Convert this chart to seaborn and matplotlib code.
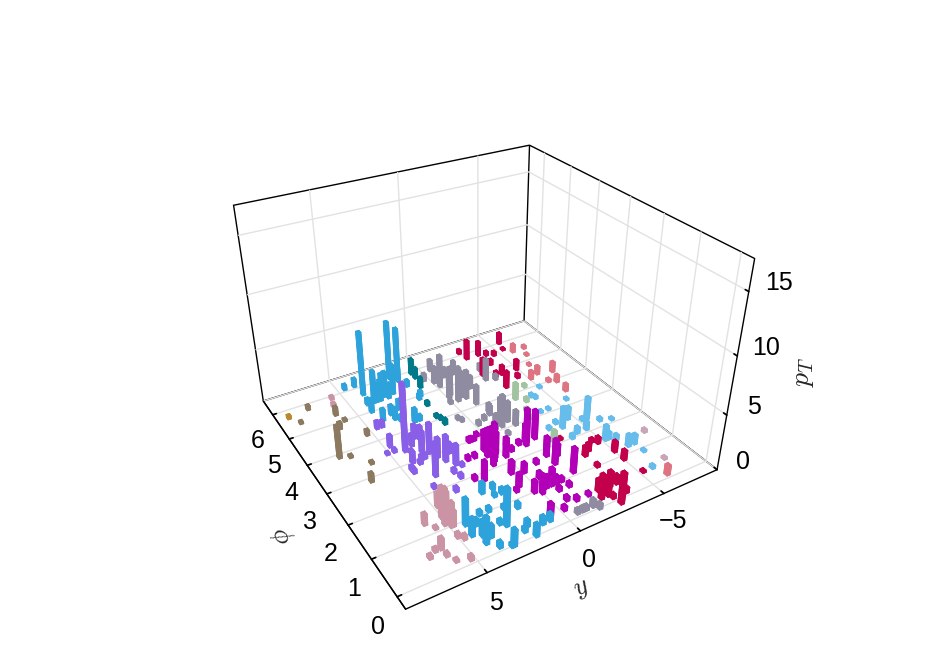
import numpy as np
import pandas as pd
import matplotlib
matplotlib.use("Agg")
import matplotlib.pyplot as plt
import seaborn as sns

blue1_y = [3.9, 1.9, 1.6, 3.7, 3.1, 3.5, 2.8, 4.0, 4.6, 4.2, 4.1, 4.0, 3.4, 2.6, 1.4, 1.2, 1.6, 1.4, 3.2, 2.3, 3.4, 2.8, 3.3, 2.9, 2.4]
blue1_p = [5.7, 6.0, 5.8, 5.3, 5.4, 5.3, 5.3, 6.1, 6.1, 5.0, 5.3, 4.6, 4.5, 4.2, 4.9, 5.0, 5.8, 5.5, 4.4, 4.2, 4.7, 4.8, 5.3, 5.4, 5.4]
blue1_z = [6.1, 5.6, 5.2, 3.1, 2.3, 1.7, 1.4, 0.8, 0.5, 1.3, 0.6, 1.1, 1.1, 1.3, 0.5, 0.5, 1.4, 0.6, 0.5, 0.5, 0.9, 0.9, 2.0, 2.4, 2.8]
teal_y = [0.6, 0.6, 0.8, 1.3, 1.4, 1.3, 1.3]
teal_p = [5.9, 5.7, 5.3, 4.6, 4.1, 3.8, 4.0]
teal_z = [1.5, 1.0, 1.0, 0.4, 0.3, 0.5, 0.3]
grey_y = [-0.2, -0.5, -0.3, -0.4, -0.9, -1.1, 0.3, -0.1, -3.0, -3.3, 0.1, 0.4, 0.5, -0.2, -0.7, -1.2, -0.8, -1.2, -1.7, -1.9, -2.8, -1.3, -1.1, -0.9, -1.5, -1.6, -0.6, -1.1, -1.5, -1.7, -0.9, -0.7, -1.4, -1.5, -0.1]
grey_p = [5.1, 5.8, 4.7, 4.4, 4.4, 4.1, 5.5, 5.3, 5.2, 4.7, 4.4, 3.7, 3.8, 3.4, 3.5, 3.6, 3.1, 3.1, 3.2, 3.0, 4.8, 3.7, 2.8, 5.4, 5.4, 4.7, 0.1, 0.1, 0.1, 0.0, 0.1, 4.5, 3.3, 3.3, 4.6]
grey_z = [3.1, 1.1, 2.7, 3.3, 2.7, 1.8, 0.7, 1.6, 0.7, 0.5, 0.3, 0.3, 0.3, 0.4, 0.4, 0.9, 1.4, 3.0, 1.9, 1.4, 2.1, 0.8, 0.3, 0.9, 1.3, 1.2, 0.4, 0.4, 0.7, 0.5, 0.4, 2.5, 2.2, 1.6, 2.2]
crim1_y = [-3.0, -2.9, -3.8, -2.9, -5.6, -4.6, -4.2, -3.5, -3.4, -3.9, -4.9, -4.5, -5.4, -3.9]
crim1_p = [5.8, 6.1, 5.8, 5.0, 6.0, 5.6, 5.7, 4.8, 4.3, 4.8, 4.8, 4.5, 5.7, 5.3]
crim1_z = [1.9, 0.4, 1.4, 1.7, 1.1, 0.4, 0.4, 0.5, 1.6, 0.9, 1.0, 0.4, 0.2, 0.5]
rose_y = [-5.8, -6.6, -6.3, -5.8, -5.1, -5.7, -6.6, -5.8, -6.2, -6.1, -6.1]
rose_p = [5.5, 5.5, 5.2, 4.8, 4.3, 4.4, 4.3, 4.0, 3.9, 3.5, 0.1]
rose_z = [0.8, 0.3, 0.2, 0.2, 0.8, 0.8, 1.0, 0.3, 0.7, 0.7, 0.9]
sage_y = [-3.2, -4.3, -3.6, -3.1, -3.0, -2.8]
sage_p = [3.8, 4.1, 3.6, 3.3, 3.0, 2.1]
sage_z = [1.6, 0.3, 0.4, 0.3, 0.3, 1.1]
lblue_y = [-5.5, -3.9, -4.6, -5.0, -4.1, -4.2, -4.2, -3.7, -5.6, -3.8, -3.2, -5.2, -4.9, -4.3, -6.0, -6.6, -5.2, -5.4, -5.7, -5.9, -6.3, -6.3, -5.8, -3.8, -5.2]
lblue_p = [2.4, 2.4, 2.6, 3.9, 3.7, 3.6, 3.1, 3.1, 3.2, 2.6, 2.5, 2.4, 2.1, 2.1, 2.2, 2.1, 1.6, 1.6, 1.5, 1.2, 1.2, 0.9, 0.4, 2.0, 1.3]
lblue_z = [2.1, 2.0, 1.2, 0.2, 0.3, 0.3, 0.2, 0.2, 0.2, 0.3, 0.3, 0.3, 0.8, 0.6, 0.3, 0.2, 1.4, 0.7, 0.5, 1.1, 0.9, 0.2, 0.3, 0.4, 0.2]
mauve_y = [-7.4, -6.8]
mauve_p = [1.4, 0.5]
mauve_z = [0.3, 0.2]
crim2_y = [-3.5, -3.9, -4.7, -4.5, -5.0, -5.0, -3.5, -5.2, -3.2, -2.4, -2.2, -3.1, -2.8, -2.7, -3.5, -2.8, -3.5, -2.6]
crim2_p = [1.4, 1.5, 1.6, 1.7, 1.2, 0.9, 1.0, 0.4, 2.1, 0.4, 0.2, 0.4, -0.1, 0.1, 0.1, 0.4, 0.4, 0.2]
crim2_z = [0.9, 0.7, 0.6, 0.3, 1.0, 0.9, 0.3, 0.2, 0.2, 1.1, 2.2, 1.4, 2.8, 0.4, 0.5, 0.8, 0.8, 1.6]
mag_y = [-2.1, -1.5, -1.6, -1.8, -1.8, -2.2, -1.0, 0.6, 0.4, 0.7, 0.0, 1.9, 0.9, 1.4, 1.8, 2.3, 0.5, 0.7, 0.3, 0.0, -0.7, -0.5, -1.3, -0.8, -1.4, -1.0, -1.4, -1.1, -0.5, 0.6, -0.7, -1.1, -0.2, -1.8, 1.0, -0.1, -0.4, 0.3, -0.5, 0.1, -2.3, 0.5, 1.0, 0.7, 0.4, 0.8, 0.5, 0.9, 0.3, 0.7]
mag_p = [2.4, 2.4, 2.4, 1.8, 1.5, 1.1, 1.0, 2.4, 2.4, 2.2, 2.2, 1.8, 3.0, 2.5, 2.5, 1.9, 1.7, 1.3, 1.0, 0.9, 1.0, 1.3, 1.0, 0.8, 0.8, 1.7, 2.3, 2.4, 2.3, 0.3, 0.5, 0.4, 0.3, 0.4, 1.2, 1.6, 1.0, 1.8, 2.5, 3.0, 1.7, 2.4, 3.0, 3.0, 3.1, 2.4, 2.3, 2.1, 2.4, 2.6]
mag_z = [2.7, 1.7, 3.1, 1.8, 2.3, 2.3, 0.7, 2.6, 2.9, 2.0, 1.8, 1.8, 0.4, 0.4, 0.4, 0.4, 1.2, 1.2, 1.1, 1.7, 1.6, 0.6, 0.4, 0.4, 0.4, 0.4, 0.5, 0.4, 0.4, 1.2, 0.4, 0.4, 0.4, 0.3, 0.3, 0.9, 1.1, 0.8, 0.7, 0.6, 1.1, 2.0, 0.4, 0.3, 0.3, 2.6, 2.4, 2.0, 2.0, 1.5]
blue2_y = [2.5, 1.9, 1.7, 2.7, 2.2, 4.3, 4.4, 3.4, 2.9, 2.1, 4.1, 3.7, 3.7, 2.9, 1.6, 3.1, 3.2, 1.9, 1.9, 1.2, 0.8, 3.9, 2.2, 4.0, 3.8]
blue2_p = [1.5, 1.5, 1.3, 0.5, 0.9, 0.9, 0.6, 1.0, 1.0, 1.3, 0.3, 0.4, 0.1, 0.6, 0.8, 0.0, 0.0, 0.3, 0.0, 0.2, 0.2, 0.8, 0.2, 0.5, 0.5]
blue2_z = [1.0, 0.5, 0.5, 3.4, 0.4, 2.4, 1.6, 0.4, 0.4, 0.3, 1.8, 1.1, 0.5, 0.4, 0.5, 1.5, 0.3, 0.6, 1.1, 0.7, 0.7, 0.6, 0.4, 1.4, 1.6]
pink_y = [5.1, 4.8, 4.9, 4.8, 5.9, 5.6, 6.0, 5.0, 4.8, 6.3, 6.7, 6.0, 5.8, 5.2, 5.6, 5.8, 4.9, 5.0]
pink_p = [1.1, 1.6, 1.0, 1.0, 1.3, 1.1, 0.6, 0.7, 0.6, 0.6, 0.5, 0.4, 0.2, 0.1, 5.9, 5.6, 1.2, 1.3]
pink_z = [3.3, 1.3, 2.2, 1.4, 1.0, 0.2, 1.0, 0.4, 0.4, 0.3, 0.3, 0.3, 0.2, 0.4, 0.3, 0.4, 2.6, 2.8]
brown_y = [7.3, 7.1, 7.9, 6.0, 6.3, 5.8, 6.8, 5.3, 6.1, 6.7]
brown_p = [3.9, 5.8, 5.4, 5.3, 4.8, 5.0, 3.8, 4.3, 3.4, 2.9]
brown_z = [3.0, 0.4, 0.2, 0.8, 0.6, 0.2, 0.2, 0.5, 0.2, 0.8]
gold_y = [8.3]
gold_p = [5.7]
gold_z = [0.3]
purple_y = [4.2, 4.6, 4.7, 4.7, 5.1, 4.3, 4.6, 3.3, 3.2, 3.8, 3.6, 4.0, 2.8, 2.5, 3.1, 4.0, 4.0, 4.6, 3.7, 2.3, 2.9, 2.8, 3.5, 4.3, 3.8, 2.3, 4.3, 3.5, 3.0]
purple_p = [3.4, 4.4, 3.7, 3.5, 3.5, 3.0, 2.7, 3.7, 3.1, 2.4, 3.0, 2.9, 2.7, 2.5, 3.6, 3.3, 2.9, 2.8, 3.5, 2.4, 2.3, 2.1, 1.8, 2.1, 3.0, 2.9, 4.4, 3.2, 2.9]
purple_z = [6.3, 0.7, 1.1, 0.3, 0.2, 1.1, 0.4, 1.3, 2.8, 3.1, 0.4, 0.3, 2.4, 1.9, 1.3, 0.3, 0.3, 0.4, 1.1, 0.3, 0.4, 0.4, 0.4, 0.3, 0.4, 0.9, 0.6, 2.0, 1.8]

sns.set_theme(style="white")
plt.rcParams["font.family"] = ["Liberation Sans", "DejaVu Sans"]
plt.rcParams["mathtext.fontset"] = "cm"

# One table with a row per bar, colour per jet
jets = [
    (blue1_y, blue1_p, blue1_z, "#2ea3db"),
    (blue2_y, blue2_p, blue2_z, "#2ea3db"),
    (teal_y, teal_p, teal_z, "#007a8a"),
    (grey_y, grey_p, grey_z, "#8f8ca2"),
    (crim1_y, crim1_p, crim1_z, "#c2004c"),
    (crim2_y, crim2_p, crim2_z, "#c2004c"),
    (rose_y, rose_p, rose_z, "#de7482"),
    (sage_y, sage_p, sage_z, "#a2c3a0"),
    (lblue_y, lblue_p, lblue_z, "#66bdec"),
    (mauve_y, mauve_p, mauve_z, "#c8a6b8"),
    (mag_y, mag_p, mag_z, "#b200b8"),
    (pink_y, pink_p, pink_z, "#ca94a4"),
    (brown_y, brown_p, brown_z, "#8c7a60"),
    (gold_y, gold_p, gold_z, "#b98a2c"),
    (purple_y, purple_p, purple_z, "#8a5fe8"),
]
df = pd.concat(
    [pd.DataFrame({"y": y, "phi": p, "pt": z, "color": col}) for y, p, z, col in jets],
    ignore_index=True,
)

fig = plt.figure(figsize=(9.47, 6.69), dpi=100)
ax = fig.add_axes([-0.005, -0.02, 1.0, 1.0], projection="3d")
ax.set_proj_type("persp", focal_length=0.245)
ax.view_init(elev=31, azim=149)
ax.set_box_aspect((1, 1, 0.67), zoom=0.80)

dy, dphi = 0.2, 0.1
ax.bar3d(df["phi"] - dphi / 2, df["y"] - dy / 2, np.zeros(len(df)), dphi, dy, df["pt"],
         color=df["color"].tolist(), shade=False, edgecolor=np.repeat(df["color"].values, 6), linewidth=0.6)

ax.set_xlim(-0.31, 6.6, view_margin=0)
ax.set_ylim(-8.47, 8.95, view_margin=0)
ax.set_zlim(0, 17.4, view_margin=0)
ax.set_xticks(range(7))
ax.set_yticks([-5, 0, 5])
ax.set_zticks([0, 5, 10, 15])
ax.set_yticklabels(["\u22125", "0", "5"])
ax.tick_params(labelsize=18, colors="black")
ax.tick_params(axis="x", pad=5)
ax.tick_params(axis="y", pad=2)
ax.tick_params(axis="z", pad=5)
for label in ax.zaxis.get_ticklabels():
    label.set_va("bottom")

for axis in (ax.xaxis, ax.yaxis, ax.zaxis):
    axis.set_pane_color((1, 1, 1, 1))
    axis.pane.set_edgecolor("black")
    axis.pane.set_linewidth(1.0)
    axis.line.set_color("black")
    axis.line.set_linewidth(1.0)
    axis._axinfo["grid"].update(color="#e2e2e2", linewidth=1.0)
    axis._axinfo["tick"].update(inward_factor=0.0, outward_factor=0.15)

fig.text(281 / 947, 1 - 535 / 669, r"$\phi$", fontsize=19, rotation=-70, ha="center", va="center")
fig.text(582 / 947, 1 - 589 / 669, r"$y$", fontsize=19, rotation=25, ha="center", va="center")
fig.text(803 / 947, 1 - 372 / 669, r"$p_T$", fontsize=20, rotation=90, ha="center", va="center")

fig.savefig("out.png", dpi=100)
